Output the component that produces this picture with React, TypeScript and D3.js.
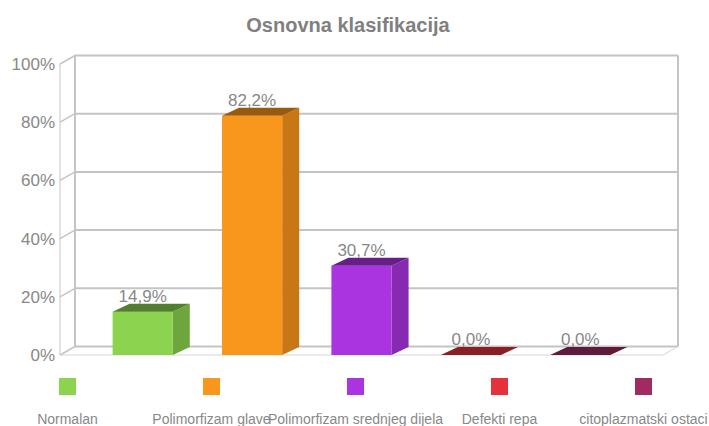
import React from "react"
import * as d3 from "d3"

const categories = ["Normalan", "Polimorfizam glave", "Polimorfizam srednjeg dijela", "Defekti repa", "citoplazmatski ostaci"]
const values = [14.9, 82.2, 30.7, 0.0, 0.0]
const yTicks = [0, 20, 40, 60, 80, 100]
const frontColors = ["#8cd34f", "#f9961c", "#aa35e0", "#e5313c", "#a12a60"]
const sideColors = ["#6ca63c", "#c97715", "#8729b3", "#b0262e", "#7d2049"]
const topColors = ["#517f2d", "#9a5a0e", "#661f88", "#8c1f26", "#611a3b"]

const W = 709
const H = 426
const font = "'Liberation Sans', Arial, sans-serif"
const grid = "#c4c4c4"

// wall depth and bar depth offsets
const wdx = 15, wdy = 8.5
const bdx = 17, bdy = 8

const App = () => {
    const yF = d3.scaleLinear().domain([0, 100]).range([355, 64])
    const yB = (v: number) => yF(v) - wdy
    const x = d3.scaleBand<string>()
        .domain(categories)
        .range([88, 635])
        .paddingInner(0.45)
        .paddingOuter(0.225)
    const bw = x.bandwidth()
    const legendX = d3.scalePoint<string>().domain(categories).range([67.5, 643.5])

    const left = 60, right = 678
    const fmt = (v: number) => v.toFixed(1).replace(".", ",") + "%"

    return (
        <svg width={W} height={H} style={{position: "absolute", left: 0, top: 0, display: "block"}}>
            <text x={348} y={32} textAnchor="middle" fontFamily={font} fontWeight="bold" fontSize={20} fill="#808080">
                Osnovna klasifikacija
            </text>

            {/* walls */}
            <g stroke={grid} fill="none">
                <line x1={left} y1={yF(100)} x2={left} y2={yF(0)} strokeWidth={1}/>
                <line x1={left + wdx} y1={yB(100)} x2={left + wdx} y2={yB(0)} strokeWidth={2}/>
                <line x1={right} y1={yB(100)} x2={right} y2={yB(0)} strokeWidth={2}/>
                {yTicks.map(t => (
                    <g key={t}>
                        <line x1={left} y1={yF(t)} x2={left + wdx} y2={yB(t)} strokeWidth={1.5}/>
                        <line x1={left + wdx} y1={yB(t)} x2={right} y2={yB(t)} strokeWidth={2}/>
                    </g>
                ))}
                <line x1={left} y1={yF(0)} x2={right - wdx} y2={yF(0)} strokeWidth={1} stroke="#d6d6d6"/>
                <line x1={right - wdx} y1={yF(0)} x2={right} y2={yB(0)} strokeWidth={1} stroke="#d6d6d6"/>
            </g>

            {yTicks.map(t => (
                <text key={t} x={55} y={yF(t)} dy="0.35em" textAnchor="end" fontFamily={font} fontSize={17} fill="#888">
                    {t}%
                </text>
            ))}

            {/* bars */}
            {categories.map((c, i) => {
                const x0 = x(c) as number
                const y0 = yF(0)
                const yt = yF(values[i])
                const side = [[x0 + bw, yt], [x0 + bw + bdx, yt - bdy], [x0 + bw + bdx, y0 - bdy], [x0 + bw, y0]]
                const top = [[x0, yt], [x0 + bdx, yt - bdy], [x0 + bw + bdx, yt - bdy], [x0 + bw, yt]]
                return (
                    <g key={c}>
                        {values[i] > 0 && <polygon points={side.join(" ")} fill={sideColors[i]}/>}
                        {values[i] > 0 && <rect x={x0} y={yt} width={bw} height={y0 - yt} fill={frontColors[i]}/>}
                        <polygon points={top.join(" ")} fill={topColors[i]}/>
                        <text x={x0 + bw / 2} y={yt - 10} textAnchor="middle" fontFamily={font} fontSize={17} fill="#888">
                            {fmt(values[i])}
                        </text>
                    </g>
                )
            })}

            {/* legend */}
            {categories.map((c, i) => (
                <g key={c}>
                    <rect x={(legendX(c) as number) - 8.5} y={378} width={17} height={17} fill={frontColors[i]}/>
                    <text x={legendX(c)} y={424} textAnchor="middle" fontFamily={font} fontSize={14} fill="#888">
                        {c}
                    </text>
                </g>
            ))}
        </svg>
    )
}

export default App
